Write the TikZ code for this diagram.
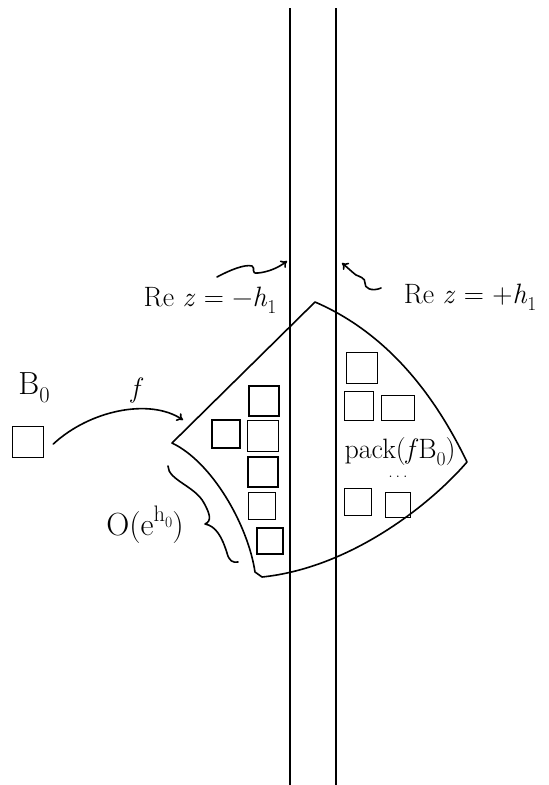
\documentclass[tikz,border=0pt]{standalone}
\usepackage{fontspec}
\usetikzlibrary{arrows.meta}
\newcommand{\sbs}[1]{\raisebox{-0.25em}{\scalebox{0.7}{#1}}}
\newcommand{\sps}[1]{\raisebox{0.45em}{\scalebox{0.7}{#1}}}
\begin{document}
\begin{tikzpicture}[x=1pt,y=-1pt,
  ink/.style={line width=1.6pt,line cap=round,line join=round},
  sq/.style={draw,line width=1.6pt,minimum width=#1,minimum height=#1,inner sep=0pt},
  lbl/.style={font=\fontsize{28}{32}\selectfont,inner sep=0pt},
  harrow/.style={ink,-{To[length=6pt,width=9pt]}}]
\useasboundingbox (0,0) rectangle (549,785);
% strip boundaries
\coordinate (L1) at (290,8); \coordinate (L2) at (290,785);
\coordinate (R1) at (336,8); \coordinate (R2) at (336,785);
\draw[line width=1.1pt] (L1) -- (L2);
\draw[line width=1.1pt] (R1) -- (R2);
% image region
\coordinate (top) at (315,302);
\coordinate (lv) at (172,443);
\coordinate (bc) at (255,572);
\coordinate (rv) at (467,462);
\draw[ink] (top) -- (lv)
  .. controls (212,462) and (248,525) .. (bc)
  -- (262,577) .. controls (350,568) and (430,505) .. (rv)
  .. controls (430,385) and (380,330) .. (top);
% squares, left column
\node[sq=30pt] (a1) at (264,401) {};
\node[sq=28pt] (a2) at (226,434) {};
\node[sq=31pt] (a3) at (263,436) {};
\node[sq=30pt] (a4) at (263,472) {};
\node[sq=27pt] (a5) at (262,506) {};
\node[sq=26pt] (a6) at (270,541) {};
% squares, right side
\node[sq=31pt] (b1) at (362,368) {};
\node[sq=29pt] (b2) at (359,406) {};
\node[draw,line width=1.6pt,minimum width=33pt,minimum height=25pt,inner sep=0pt] (b3) at (398,408) {};
\node[sq=27pt] (b4) at (358,502) {};
\node[sq=25pt] (b5) at (398,505) {};
\node[lbl] (pack) at (400,452) {pack(\textit{f}B\sbs{0})};
\node[lbl,font=\fontsize{18}{20}\selectfont] (dots) at (398,477) {.\,.\,.};
% source box
\node[sq=31pt] (B) at (28,442) {};
\node[lbl,font=\fontsize{32}{36}\selectfont] (Blab) at (34,388) {B\sbs{0}};
\coordinate (tgt) at (183,420);
\draw[harrow] ([xshift=9pt,yshift=-2pt]B.east) .. controls (90,410) and (150,398) .. (tgt);
\node[lbl] (f) at (137,390) {\textit{f}};
% brace
\draw[ink] (168,466) .. controls (168,480) and (195,486) .. (204,503)
  .. controls (210,514) and (212,521) .. (205,524)
  .. controls (216,526) and (222,537) .. (227,553)
  .. controls (229,561) and (233,563) .. (238,562);
\node[lbl,font=\fontsize{32}{36}\selectfont] (O) at (145,525) {O(e\sps{h\sbs{0}})};
% labels with squiggle arrows
\node[lbl] (reL) at (210,300) {Re \textit{z} = −\textit{h}\sbs{1}};
\node[lbl] (reR) at (470,297) {Re \textit{z} = +\textit{h}\sbs{1}};
\coordinate (aL) at (287,261);
\coordinate (aR) at (342,263);
\draw[harrow] (217,277) .. controls (230,270) and (245,264) .. (252,266)
  .. controls (256,268) and (250,274) .. (258,273)
  .. controls (268,272) and (278,268) .. (aL);
\draw[harrow] (381,288) .. controls (372,292) and (364,288) .. (365,283)
  .. controls (366,278) and (358,276) .. (356,275)
  .. controls (352,272) and (348,268) .. (aR);
\end{tikzpicture}
\end{document}
